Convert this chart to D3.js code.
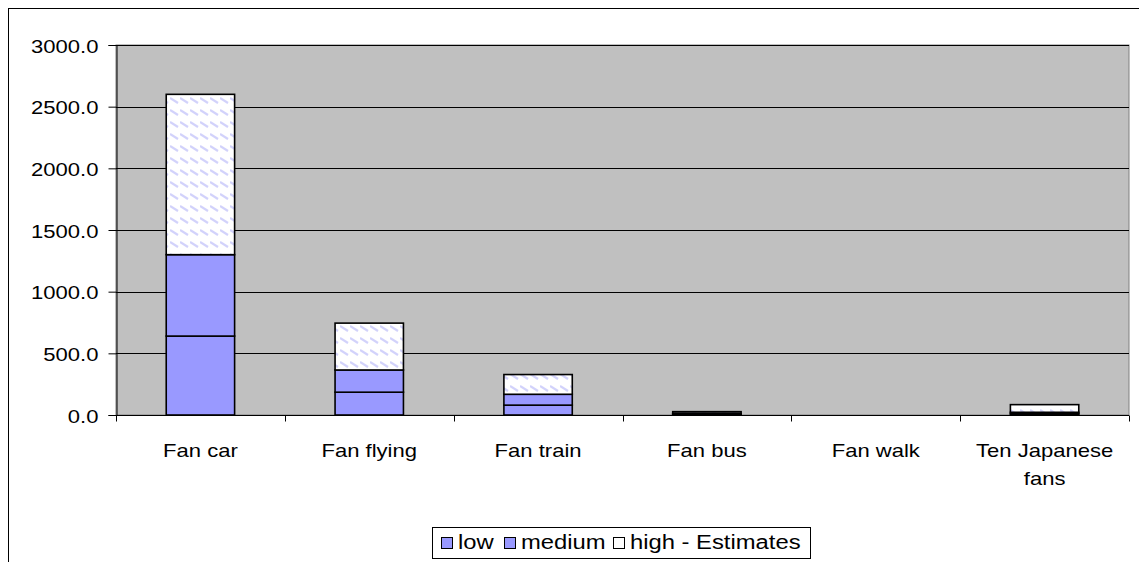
<!DOCTYPE html>
<html>
<head>
<meta charset="utf-8">
<script src="https://cdn.jsdelivr.net/npm/d3@7"></script>
<style>
  html, body { margin: 0; padding: 0; background: #fff; }
  svg { display: block; font-family: "Liberation Sans", Arial, sans-serif; }
</style>
</head>
<body>
<svg id="chart" width="1139" height="562"></svg>
<script>
// Emission estimates per travel mode, stacked low / medium / high
const categories = ["Fan car", "Fan flying", "Fan train", "Fan bus", "Fan walk", "Ten Japanese fans"];
const lowValues    = [640, 185, 80, 6, 0, 10];
const mediumValues = [660, 180, 88, 7, 0, 12];
const highValues   = [1300, 380, 160, 14, 0, 62];
const seriesNames  = ["low", "medium", "high - Estimates"];
const yTicks       = [0, 500, 1000, 1500, 2000, 2500, 3000];

const rows = categories.map((c, i) => ({
  category: c, low: lowValues[i], medium: mediumValues[i], high: highValues[i]
}));

const svg = d3.select("#chart");
const plot = { left: 116, right: 1129, top: 45, bottom: 415 };
const SX = 1.16; // horizontal text stretch

// outer frame
svg.append("rect").attr("x", 8.5).attr("y", 8.5).attr("width", 1200).attr("height", 1000)
  .attr("fill", "#fff").attr("stroke", "#000").attr("stroke-width", 1);

const x = d3.scaleBand().domain(categories).range([plot.left, plot.right]).padding(0);
const y = d3.scaleLinear().domain([0, 3000]).range([plot.bottom, plot.top]);

// hatch fill for the high estimate
const defs = svg.append("defs");
const pat = defs.append("pattern").attr("id", "hatch").attr("patternUnits", "userSpaceOnUse")
  .attr("width", 10).attr("height", 12);
pat.append("rect").attr("width", 10).attr("height", 12).attr("fill", "#fff");
pat.append("line").attr("x1", 0).attr("y1", 2).attr("x2", 8).attr("y2", 7)
  .attr("stroke", "#d2d2fb").attr("stroke-width", 2.2);

// plot background
svg.append("rect").attr("x", plot.left).attr("y", plot.top)
  .attr("width", plot.right - plot.left).attr("height", plot.bottom - plot.top)
  .attr("fill", "#c0c0c0").attr("stroke", "#808080").attr("stroke-width", 1);

// gridlines
svg.append("g").selectAll("line").data(yTicks.filter(t => t > 0)).join("line")
  .attr("x1", plot.left).attr("x2", plot.right)
  .attr("y1", d => Math.round(y(d)) + 0.5).attr("y2", d => Math.round(y(d)) + 0.5)
  .attr("stroke", "#000").attr("stroke-width", 1);

// stacked bars
const stack = d3.stack().keys(["low", "medium", "high"]);
const layers = stack(rows);
const fills = { low: "#9999ff", medium: "#9999ff", high: "url(#hatch)" };
const barW = x.bandwidth() * 0.405;

svg.append("g").selectAll("g").data(layers).join("g")
  .attr("fill", d => fills[d.key])
  .selectAll("rect").data(d => d.filter(s => s[1] - s[0] > 0)).join("rect")
  .attr("x", d => x(d.data.category) + (x.bandwidth() - barW) / 2)
  .attr("width", barW)
  .attr("y", d => y(d[1]))
  .attr("height", d => y(d[0]) - y(d[1]))
  .attr("stroke", "#000").attr("stroke-width", 1.6);

// y axis
const yAxis = d3.axisLeft(y).tickValues(yTicks).tickSize(8).tickFormat(d3.format(".1f"));
const gy = svg.append("g").attr("transform", `translate(${plot.left + 0.5},0)`).call(yAxis);
gy.select(".domain").attr("stroke", "#000");
gy.selectAll(".tick line").attr("stroke", "#000");
gy.selectAll(".tick text").remove();
gy.selectAll(".tick").append("text")
  .attr("text-anchor", "end").attr("font-size", 19).attr("fill", "#000")
  .attr("transform", `translate(-18,7) scale(${SX},1)`)
  .text(d => d3.format(".1f")(d));

// x axis: ticks at category boundaries
const gx = svg.append("g").attr("transform", `translate(0,${plot.bottom + 0.5})`);
gx.append("line").attr("x1", plot.left).attr("x2", plot.right).attr("stroke", "#000");
const bounds = categories.map(c => x(c)).concat([plot.right]);
gx.selectAll("line.tk").data(bounds).join("line").attr("class", "tk")
  .attr("x1", d => Math.round(d) + 0.5).attr("x2", d => Math.round(d) + 0.5)
  .attr("y1", 0).attr("y2", 6).attr("stroke", "#000");

const labelLines = { "Ten Japanese fans": ["Ten Japanese", "fans"] };
const xl = svg.append("g").selectAll("g").data(categories).join("g")
  .attr("transform", d => `translate(${x(d) + x.bandwidth() / 2},456.5)`);
xl.each(function (d) {
  const lines = labelLines[d] || [d];
  d3.select(this).selectAll("text").data(lines).join("text")
    .attr("text-anchor", "middle").attr("font-size", 19).attr("fill", "#000")
    .attr("transform", (t, i) => `translate(0,${i * 28.5}) scale(${SX},1)`)
    .text(t => t);
});

// legend
const lg = svg.append("g");
lg.append("rect").attr("x", 432.5).attr("y", 527.5).attr("width", 378).attr("height", 31)
  .attr("fill", "#fff").attr("stroke", "#000").attr("stroke-width", 1);
const legendFills = ["#9999ff", "#9999ff", "#fff"];
const legendX = [441, 504, 613];
seriesNames.forEach((name, i) => {
  lg.append("rect").attr("x", legendX[i] + 0.5).attr("y", 537.5).attr("width", 11).attr("height", 11)
    .attr("fill", legendFills[i]).attr("stroke", "#000").attr("stroke-width", 1);
  lg.append("text").attr("font-size", 20).attr("fill", "#000")
    .attr("transform", `translate(${legendX[i] + 17},549) scale(1.19,1)`)
    .text(name);
});
</script>
</body>
</html>
